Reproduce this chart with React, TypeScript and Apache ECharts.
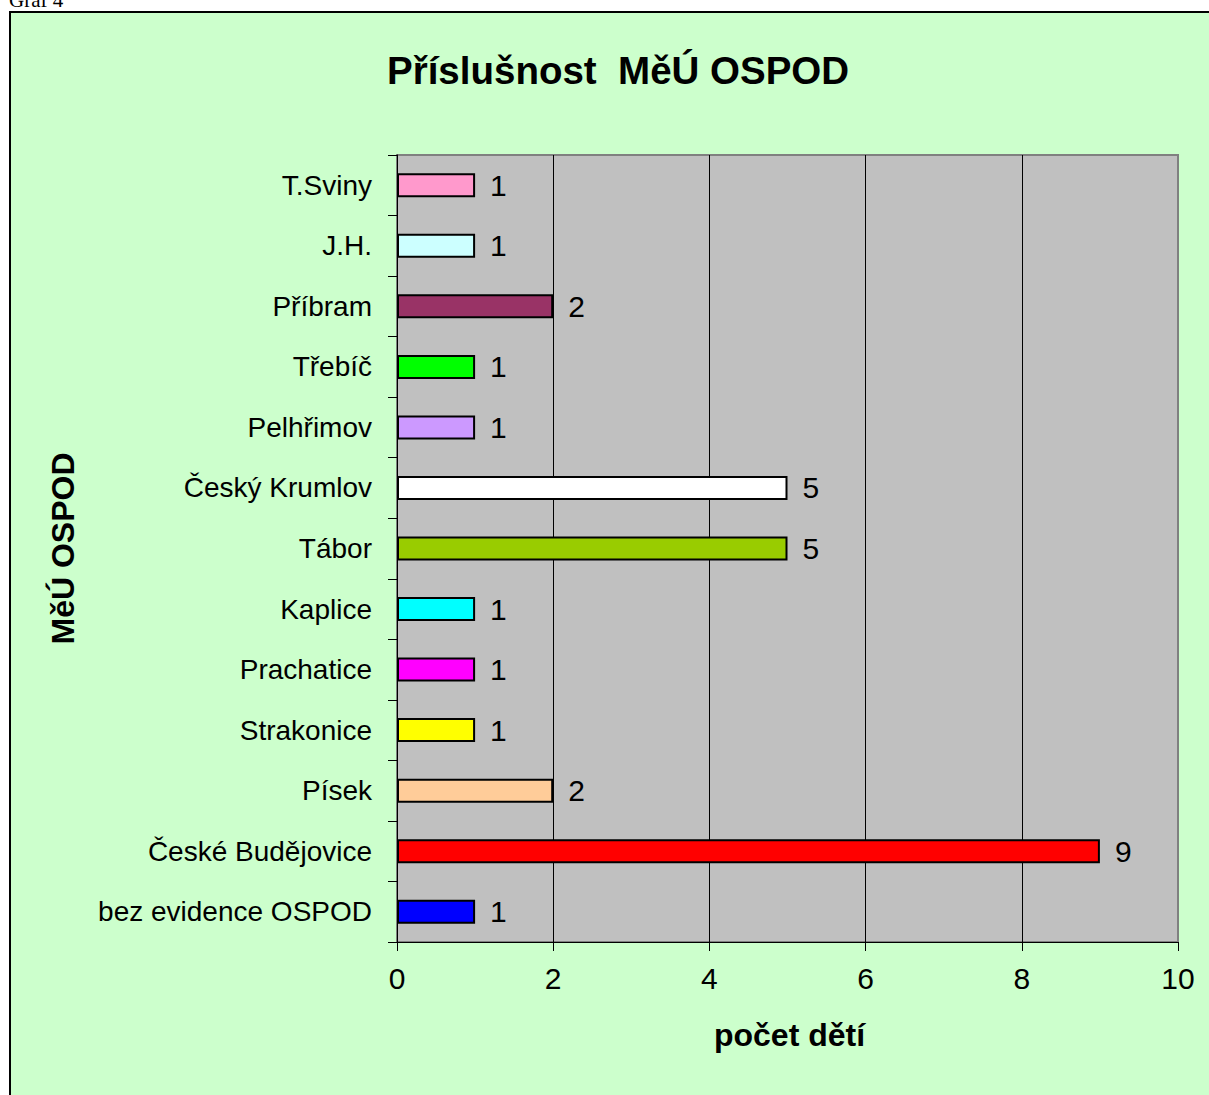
import React, { useEffect, useRef } from "react";
import * as echarts from "echarts";

const categories = [
  "bez evidence OSPOD",
  "České Budějovice",
  "Písek",
  "Strakonice",
  "Prachatice",
  "Kaplice",
  "Tábor",
  "Český Krumlov",
  "Pelhřimov",
  "Třebíč",
  "Příbram",
  "J.H.",
  "T.Sviny",
];
const values = [1, 9, 2, 1, 1, 1, 5, 5, 1, 1, 2, 1, 1];
const barColors = [
  "#0000FF",
  "#FF0000",
  "#FFCC99",
  "#FFFF00",
  "#FF00FF",
  "#00FFFF",
  "#99CC00",
  "#FFFFFF",
  "#CC99FF",
  "#00FF00",
  "#993366",
  "#CCFFFF",
  "#FF99CC",
];
const chartTitle = "Příslušnost  MěÚ OSPOD";
const xAxisName = "počet dětí";
const yAxisName = "MěÚ OSPOD";

const FONT = 'Arial, "Liberation Sans", sans-serif';

export default function App() {
  const ref = useRef<HTMLDivElement>(null);
  useEffect(() => {
    if (!ref.current) return;
    const chart = echarts.init(ref.current, undefined, { renderer: "svg" });
    chart.setOption({
      animation: false,
      backgroundColor: "transparent",
      title: {
        text: chartTitle,
        left: 382,
        top: 46,
        textStyle: { fontSize: 38.5, fontWeight: "bold", color: "#000", fontFamily: FONT },
      },
      grid: {
        left: 397,
        top: 155,
        right: 31,
        bottom: 153,
        show: true,
        backgroundColor: "#C0C0C0",
        borderColor: "#808080",
        borderWidth: 2,
      },
      xAxis: {
        type: "value",
        min: 0,
        max: 10,
        interval: 2,
        name: xAxisName,
        nameLocation: "middle",
        nameGap: 77,
        nameTextStyle: { fontSize: 32, fontWeight: "bold", color: "#000", fontFamily: FONT, padding: [0, 0, 0, 4] },
        axisLine: { show: true, lineStyle: { color: "#000", width: 1 } },
        axisTick: { show: true, length: 9, lineStyle: { color: "#000" } },
        axisLabel: { fontSize: 30, color: "#000", fontFamily: FONT, margin: 21 },
        splitLine: {
          show: true,
          lineStyle: { color: ["#000", "#000", "#000", "#000", "#000", "#808080"], width: 1 },
        },
      },
      yAxis: {
        type: "category",
        data: categories,
        name: yAxisName,
        nameLocation: "middle",
        nameGap: 318,
        nameTextStyle: { fontSize: 32, fontWeight: "bold", color: "#000", fontFamily: FONT },
        axisLine: { show: true, lineStyle: { color: "#000", width: 1 } },
        axisTick: { show: true, length: 9, lineStyle: { color: "#000" } },
        axisLabel: { fontSize: 28, color: "#000", fontFamily: FONT, margin: 25 },
        splitLine: { show: false },
      },
      series: [
        {
          type: "bar",
          data: values.map((v, i) => ({ value: v, itemStyle: { color: barColors[i] } })),
          barWidth: 24,
          itemStyle: { borderColor: "#000", borderWidth: 2 },
          label: {
            show: true,
            position: "right",
            distance: 15,
            fontSize: 30,
            color: "#000",
            fontFamily: FONT,
          },
        },
      ],
    });
    return () => chart.dispose();
  }, []);

  return (
    <div style={{ position: "absolute", left: 0, top: 0, width: 1209, height: 1095, overflow: "hidden" }}>
      <span
        style={{
          position: "absolute",
          left: 9,
          top: -10,
          fontFamily: '"Liberation Serif", "Times New Roman", serif',
          fontSize: 21,
          lineHeight: "21px",
          whiteSpace: "nowrap",
        }}
      >
        Graf 4
      </span>
      <div
        style={{
          position: "absolute",
          left: 9,
          top: 11,
          width: 1200,
          height: 1084,
          background: "#CCFFCC",
          borderTop: "2px solid #000",
          borderLeft: "2px solid #000",
          boxSizing: "border-box",
        }}
      />
      <div ref={ref} style={{ position: "absolute", left: 0, top: 0, width: 1209, height: 1095 }} />
    </div>
  );
}
